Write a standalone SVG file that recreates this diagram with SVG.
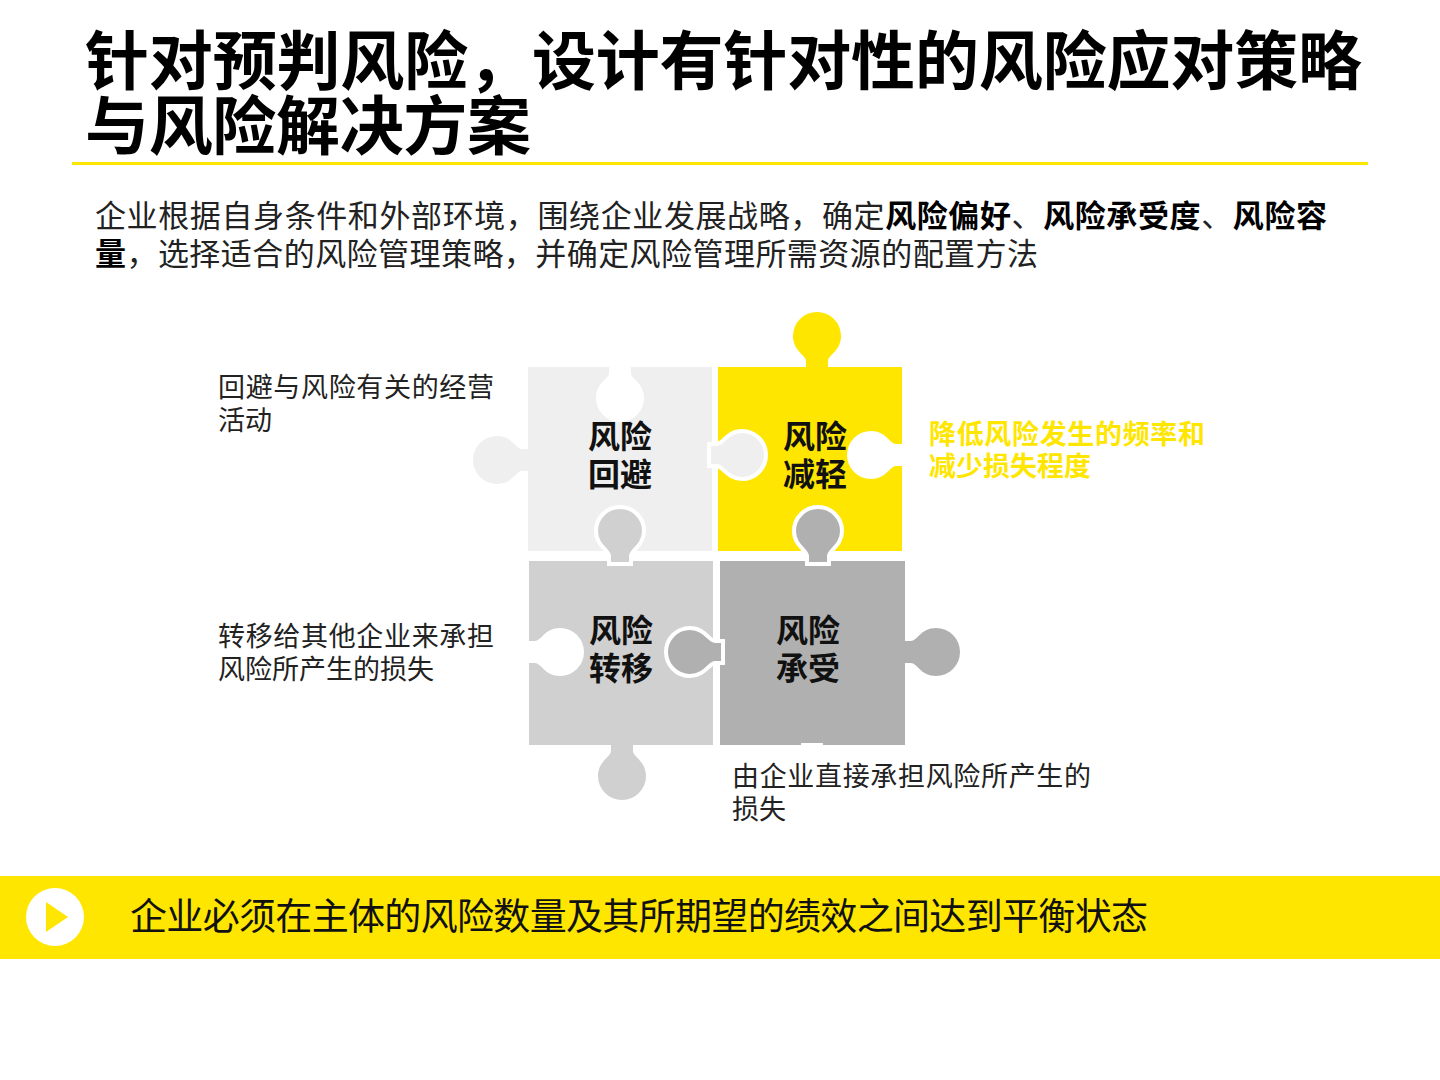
<svg xmlns="http://www.w3.org/2000/svg" xmlns:xlink="http://www.w3.org/1999/xlink" width="1440" height="1080" viewBox="0 0 1440 1080">
<style>
text{font-family:"Liberation Sans","Noto Sans CJK SC",sans-serif;}
.t{font-size:64px;font-weight:bold;fill:#000}
.b{font-size:31px;fill:#222}
.bb{font-weight:bold;fill:#000}
.l{font-size:27px;fill:#222}
.p{font-size:32px;font-weight:bold;fill:#111;text-anchor:middle}
.edge{stroke:#fff;stroke-width:4}
</style>
<defs>
<path id="knob" d="M-11,2 L-11,-6 C-11,-12 -24,-16 -24,-31 A24,24 0 1 1 24,-31 C24,-16 11,-12 11,-6 L11,2 Z"/>
</defs>
<rect width="1440" height="1080" fill="#fff"/>
<g id="title">
<text class="t" x="85" y="84" textLength="1277">针对预判风险，设计有针对性的风险应对策略</text>
<text class="t" x="85" y="149" textLength="446">与风险解决方案</text>
<rect x="72" y="162" width="1296" height="3" fill="#ffe600"/>
</g>
<g id="intro">
<text class="b" x="95" y="227" textLength="1232">企业根据自身条件和外部环境，围绕企业发展战略，确定<tspan class="bb">风险偏好</tspan>、<tspan class="bb">风险承受度</tspan>、<tspan class="bb">风险容</tspan></text>
<text class="b" x="95" y="265" textLength="943"><tspan class="bb">量</tspan>，选择适合的风险管理策略，并确定风险管理所需资源的配置方法</text>
</g>
<g id="puzzle">
<rect x="528" y="367" width="184" height="184" fill="#efefef"/>
<rect x="718" y="367" width="184" height="184" fill="#ffe600"/>
<rect x="529" y="561" width="184" height="184" fill="#d0d0d0"/>
<rect x="720" y="561" width="185" height="184" fill="#b0b0b0"/>
<use href="#knob" transform="translate(817,367)" fill="#ffe600"/>
<use href="#knob" transform="translate(620,367) rotate(180)" fill="#fff"/>
<use href="#knob" transform="translate(528,460) rotate(-90)" fill="#efefef"/>
<use href="#knob" transform="translate(902,455) rotate(-90)" fill="#fff"/>
<use href="#knob" transform="translate(622,745) rotate(180)" fill="#d0d0d0"/>
<use href="#knob" transform="translate(529,652) rotate(90)" fill="#fff"/>
<use href="#knob" transform="translate(905,652) rotate(90)" fill="#b0b0b0"/>
<use href="#knob" transform="translate(812,745) rotate(180)" fill="#fff"/>
<use href="#knob" class="edge" transform="translate(711,455) rotate(90)" fill="#efefef"/>
<use href="#knob" class="edge" transform="translate(620,562)" fill="#d0d0d0"/>
<use href="#knob" class="edge" transform="translate(721,652) rotate(-90)" fill="#b0b0b0"/>
<use href="#knob" class="edge" transform="translate(818,562)" fill="#b0b0b0"/>
</g>
<g id="n1"><text class="p" x="620" y="448">风险</text><text class="p" x="620" y="486">回避</text></g>
<g id="n2"><text class="p" x="815" y="448">风险</text><text class="p" x="815" y="486">减轻</text></g>
<g id="n3"><text class="p" x="621" y="642">风险</text><text class="p" x="621" y="680">转移</text></g>
<g id="n4"><text class="p" x="808" y="642">风险</text><text class="p" x="808" y="680">承受</text></g>
<g id="labels">
<text class="l" x="218" y="397" textLength="276">回避与风险有关的经营</text>
<text class="l" x="218" y="430">活动</text>
<text class="l" x="929" y="444" textLength="276" font-weight="bold" style="fill:#ffe600">降低风险发生的频率和</text>
<text class="l" x="929" y="476" font-weight="bold" style="fill:#ffe600">减少损失程度</text>
<text class="l" x="218" y="646" textLength="276">转移给其他企业来承担</text>
<text class="l" x="218" y="679">风险所产生的损失</text>
<text class="l" x="732" y="786" textLength="359">由企业直接承担风险所产生的</text>
<text class="l" x="732" y="819">损失</text>
</g>
<g id="banner">
<rect x="0" y="876" width="1440" height="83" fill="#ffe600"/>
<circle cx="55" cy="917" r="29" fill="#fff"/>
<path d="M46,902 L68,917 L46,932 Z" fill="#ffe600"/>
<text x="130" y="930" font-size="37" fill="#111" textLength="1018">企业必须在主体的风险数量及其所期望的绩效之间达到平衡状态</text>
</g>
</svg>
